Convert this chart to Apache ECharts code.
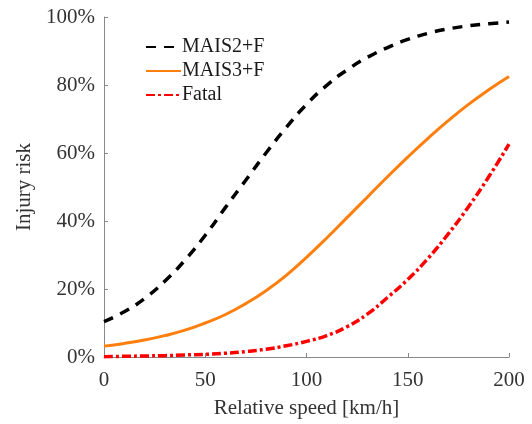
<!DOCTYPE html>
<html lang="en">
<head>
    <meta charset="UTF-8" />
    <title>Injury risk vs relative speed</title>
    <script src="https://cdn.jsdelivr.net/npm/echarts@6/dist/echarts.min.js"></script>
    <style>
        html, body { margin: 0; padding: 0; background: #ffffff; }
        #main { width: 532px; height: 424px; }
    </style>
</head>
<body>
    <div id="main"></div>
    <script type="text/javascript">
        // relative speed (km/h)
        var speeds = [0, 10, 20, 30, 40, 50, 60, 70, 80, 90, 100, 110, 120, 130, 140, 150, 160, 170, 180, 190, 200];
        // injury risk (%)
        var mais2 = [10.4, 13.3, 17.2, 22.3, 28.5, 35.8, 44, 52, 60, 67.5, 74.3, 79.9, 84.4, 88.1, 91, 93.4, 95.2, 96.5, 97.4, 98, 98.5];
        var mais3 = [3.2, 4, 5, 6.3, 7.9, 10, 12.5, 15.7, 19.5, 24, 29.3, 35, 41, 47, 53, 58.8, 64.3, 69.5, 74.3, 78.6, 82.5];
        var fatal = [0.1, 0.2, 0.3, 0.4, 0.6, 0.8, 1.1, 1.6, 2.3, 3.3, 4.6, 6.3, 8.9, 12.6, 17.5, 22.8, 29, 36.2, 44.2, 53, 62.6];
        var xTicks = [0, 50, 100, 150, 200];

        function pairs(ys) {
            return speeds.map(function (x, i) { return [x, ys[i]]; });
        }

        var font = 'Liberation Serif, Times New Roman, serif';
        var myChart = echarts.init(document.getElementById('main'));

        var option = {
            animation: false,
            textStyle: { fontFamily: font },
            grid: { left: 104, right: 23, top: 17, bottom: 67 },
            legend: {
                orient: 'vertical',
                left: 140,
                top: 32,
                itemWidth: 35,
                itemHeight: 14,
                itemGap: 4,
                itemStyle: { opacity: 0 },
                textStyle: { fontFamily: font, fontSize: 20, color: '#1a1a1a', padding: [0, 0, 0, -4] },
                data: ['MAIS2+F', 'MAIS3+F', 'Fatal']
            },
            xAxis: {
                type: 'value',
                min: 0,
                max: 200,
                interval: 50,
                name: 'Relative speed [km/h]',
                nameLocation: 'middle',
                nameGap: 41,
                nameTextStyle: { fontFamily: font, fontSize: 21, color: '#333' },
                axisLine: { show: true, lineStyle: { color: '#888', width: 1 } },
                axisTick: { show: true, inside: true, length: 4, lineStyle: { color: '#888' } },
                axisLabel: {
                    fontFamily: font, fontSize: 21, color: '#333', margin: 13,
                    formatter: function (v) { return xTicks.indexOf(v) >= 0 ? v : ''; }
                },
                splitLine: { show: false }
            },
            yAxis: {
                type: 'value',
                min: 0,
                max: 100,
                interval: 20,
                name: 'Injury risk',
                nameLocation: 'middle',
                nameGap: 65,
                nameRotate: 90,
                nameTextStyle: { fontFamily: font, fontSize: 21, color: '#333' },
                axisLine: { show: true, lineStyle: { color: '#888', width: 1 } },
                axisTick: { show: true, inside: true, length: 4, lineStyle: { color: '#888' } },
                axisLabel: { fontFamily: font, fontSize: 21, color: '#333', margin: 9, formatter: '{value}%' },
                splitLine: { show: false }
            },
            series: [
                {
                    name: 'MAIS2+F',
                    type: 'line',
                    smooth: true,
                    symbol: 'none',
                    data: pairs(mais2),
                    itemStyle: { color: '#000000' },
                    lineStyle: { color: '#000000', width: 3.5, type: [10, 8] }
                },
                {
                    name: 'MAIS3+F',
                    type: 'line',
                    smooth: true,
                    symbol: 'none',
                    data: pairs(mais3),
                    itemStyle: { color: '#ff7f0e' },
                    lineStyle: { color: '#ff7f0e', width: 3 }
                },
                {
                    name: 'Fatal',
                    type: 'line',
                    smooth: true,
                    symbol: 'none',
                    data: pairs(fatal),
                    itemStyle: { color: '#ff0000' },
                    lineStyle: { color: '#ff0000', width: 3.5, type: [9, 3, 3, 3] }
                }
            ]
        };
        option && myChart.setOption(option);
    </script>
</body>
</html>
